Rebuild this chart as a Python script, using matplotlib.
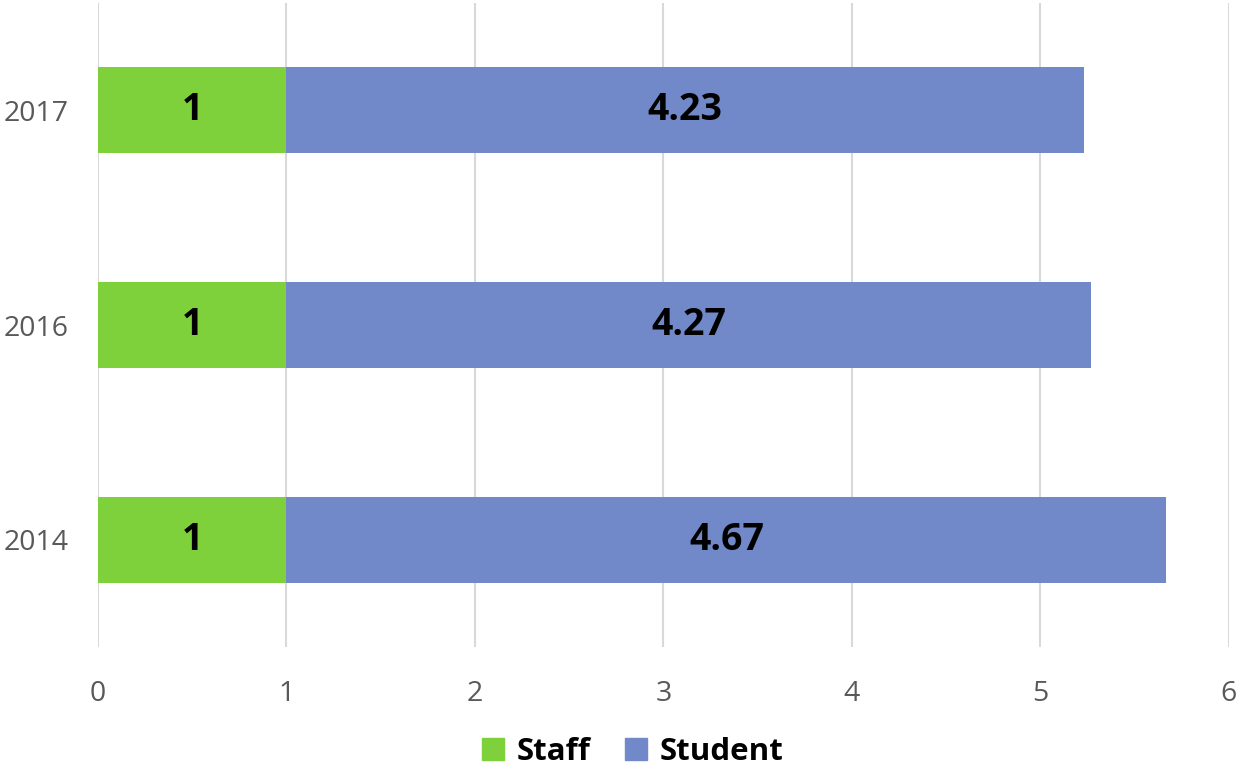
import matplotlib
matplotlib.use("Agg")
import matplotlib.pyplot as plt
from matplotlib.patches import Patch

years = ["2014", "2016", "2017"]
staff = [1, 1, 1]
student = [4.67, 4.27, 4.23]

green = "#7FD13B"
blue = "#7189C8"

plt.rcParams['font.family'] = ['Open Sans', 'DejaVu Sans']

fig = plt.figure(figsize=(12.41, 7.70), dpi=100)
ax = fig.add_axes([0.079, 0.1597, 0.911, 0.8363])

y = range(len(years))
ax.barh(y, staff, height=0.4, color=green, zorder=3)
ax.barh(y, student, left=staff, height=0.4, color=blue, zorder=3)

for i in y:
    ax.text(staff[i] / 2, i, f"{staff[i]:g}", ha="center", va="center",
            fontsize=27, fontweight="bold", color="black", zorder=4)
    ax.text(staff[i] + student[i] / 2, i, f"{student[i]:g}", ha="center", va="center",
            fontsize=27, fontweight="bold", color="black", zorder=4)

ax.set_xlim(0, 6)
ax.set_ylim(-0.5, 2.5)
ax.set_xticks(range(7))
ax.set_yticks(list(y))
ax.set_yticklabels(years)
ax.grid(axis="x", color="#D9D9D9", linewidth=1.5, zorder=0)
for s in ax.spines.values():
    s.set_visible(False)
ax.tick_params(axis="both", length=0, labelsize=20.5, labelcolor="#595959")
ax.tick_params(axis="x", pad=24)
ax.tick_params(axis="y", pad=21)

handles = [Patch(color=green, label="Staff"), Patch(color=blue, label="Student")]
fig.legend(handles=handles, loc="center", bbox_to_anchor=(0.51, 0.023),
           ncol=2, frameon=False, prop={"size": 22.5, "weight": "bold"},
           handlelength=0.7, handleheight=0.7, handletextpad=0.4, columnspacing=1.1)

fig.savefig("out.png", dpi=100)
